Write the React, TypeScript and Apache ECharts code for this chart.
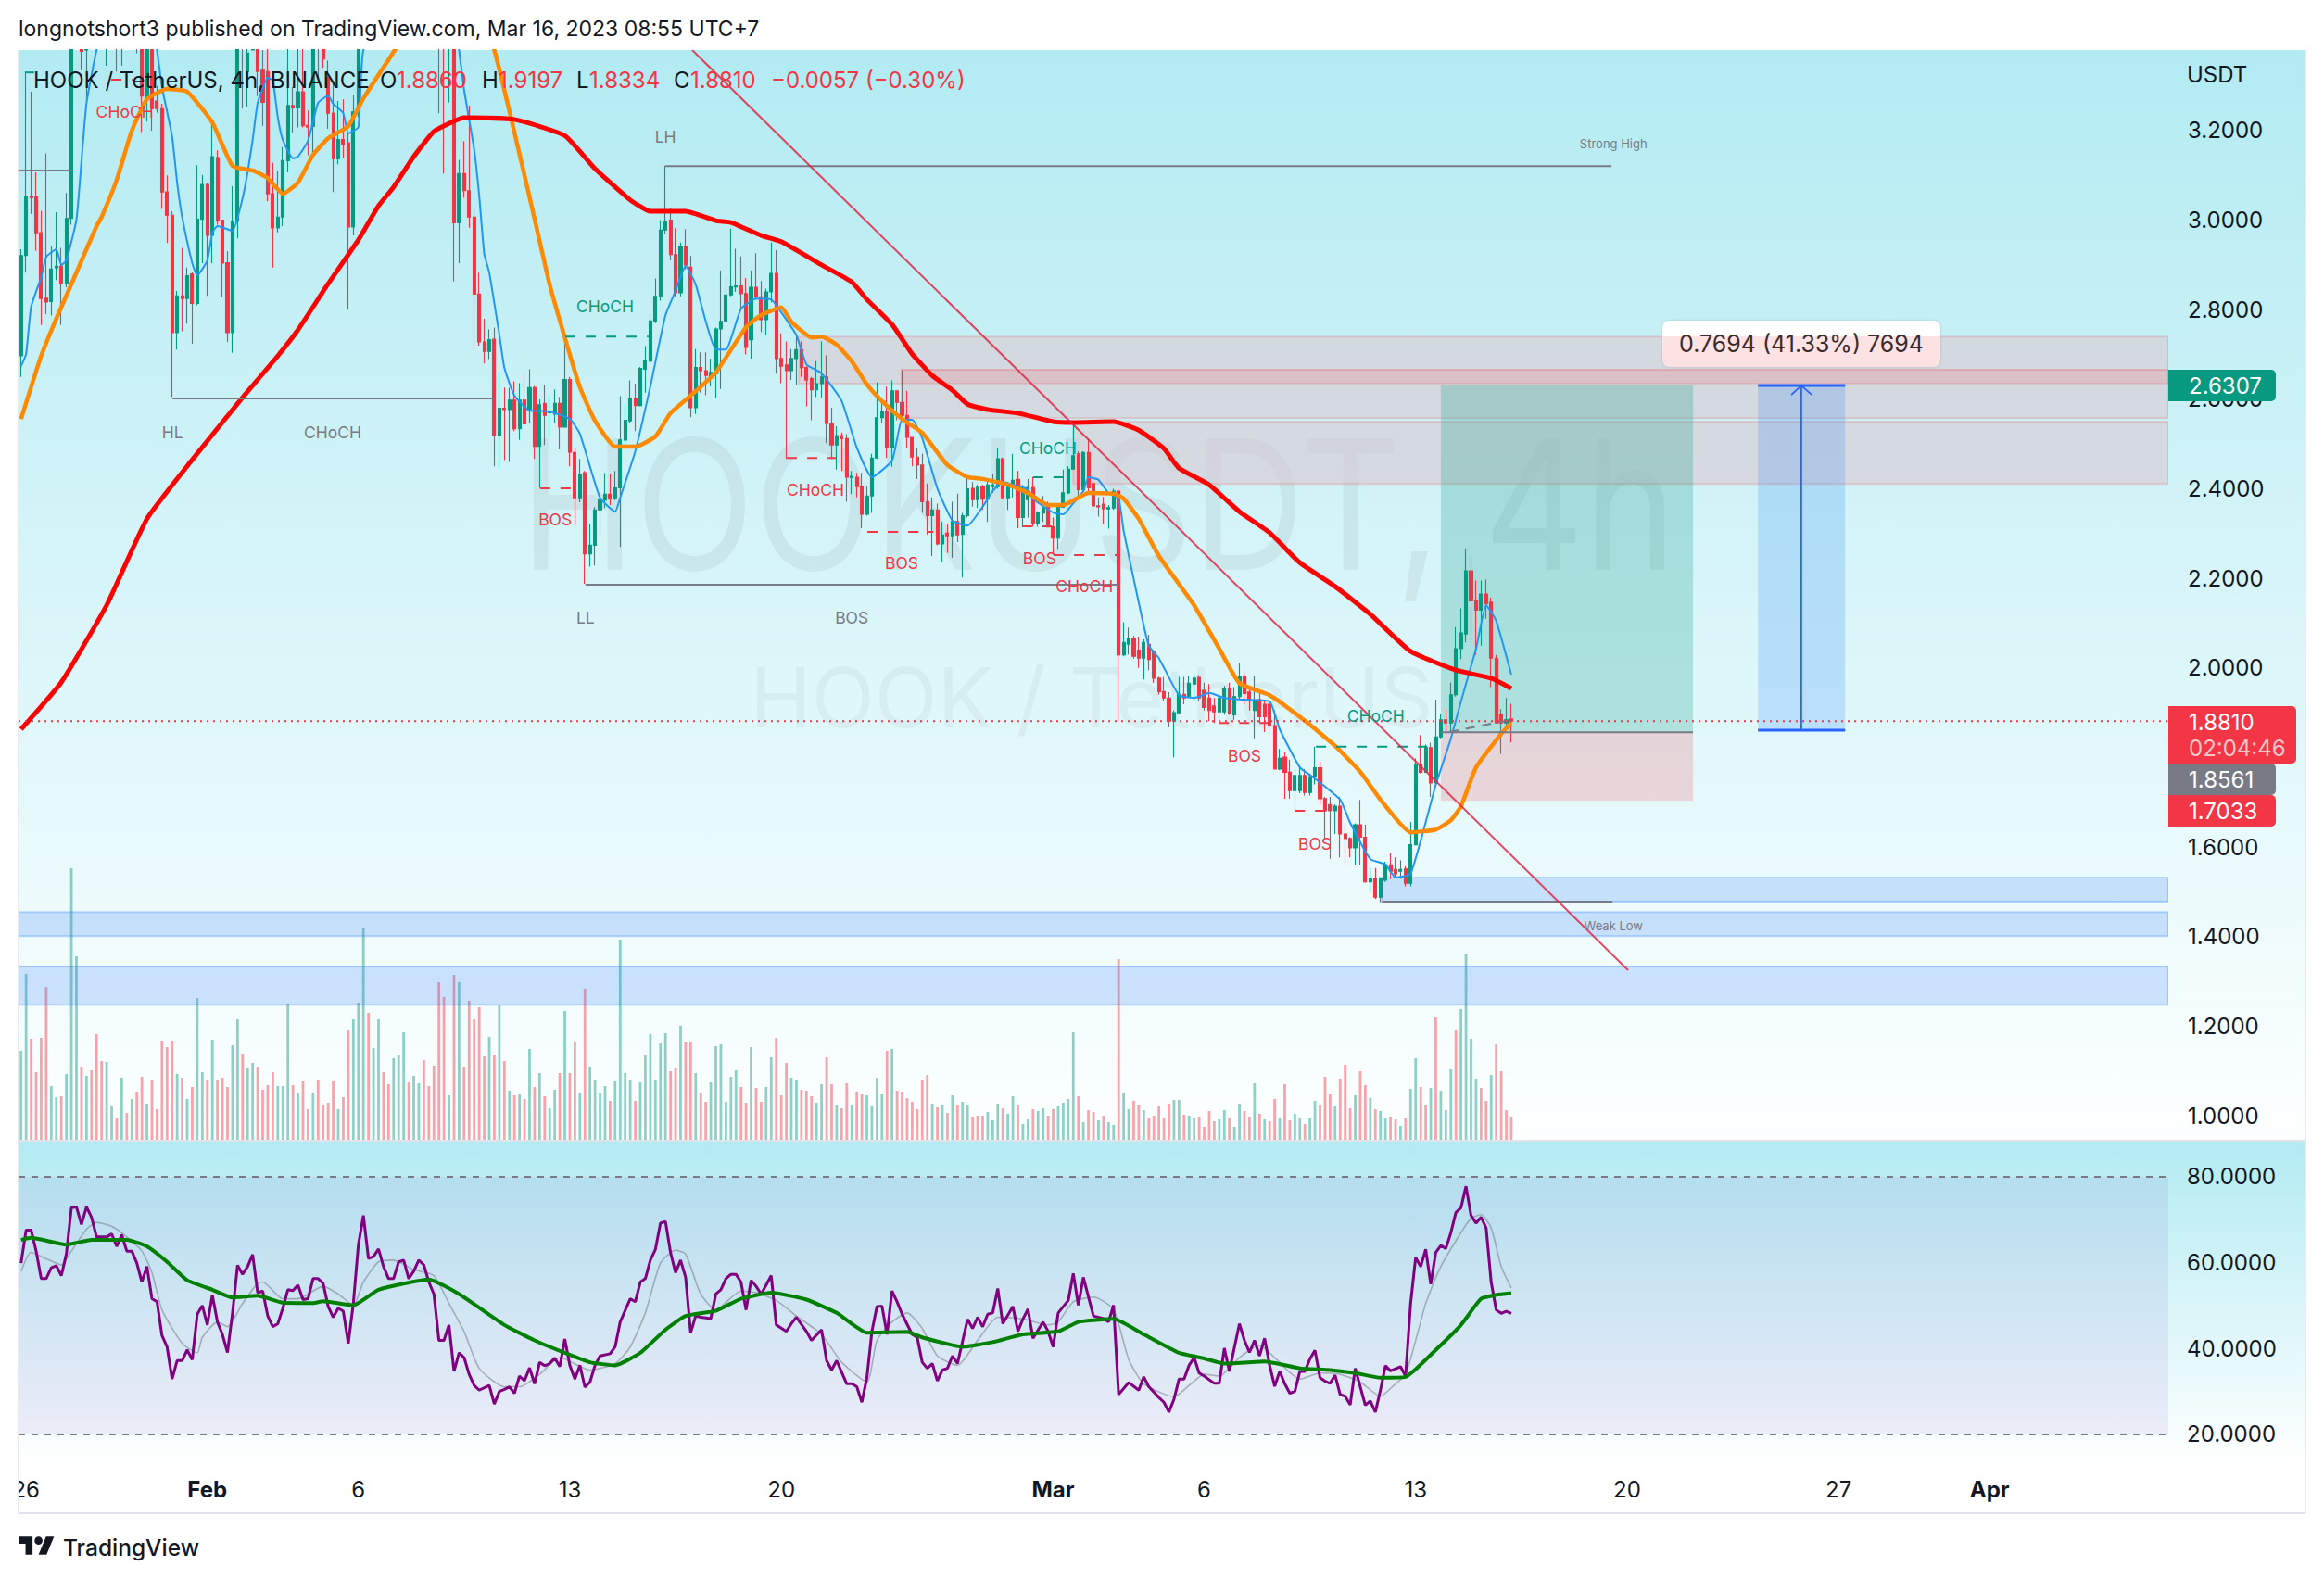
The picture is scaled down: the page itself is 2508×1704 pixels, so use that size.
import React, { useEffect, useRef } from "react";
import * as echarts from "echarts";

const FONT = "Inter, 'Noto Sans', sans-serif";
const UP = "#089981";
const DOWN = "#F23645";

// [open, close, low, high], one row per 4h bar
const candles: number[][] = [
[2.697,2.921,2.65,2.935],[2.921,3.054,2.883,3.332],[3.054,3.05,3.014,3.287],[3.054,2.972,2.932,3.107],[2.972,2.825,2.766,3.021],
[2.826,2.817,2.79,3.149],[2.818,2.891,2.787,2.942],[2.894,2.897,2.866,3.018],[2.897,2.858,2.766,2.938],[2.858,3.004,2.85,3.061],
[3.004,3.42,2.99,3.48],[3.46,3.52,3.41,3.56],[3.44,3.377,3.335,3.5],[3.38,3.45,3.266,3.5],[3.45,3.5,3.39,3.55],
[3.5,3.48,3.41,3.56],[3.48,3.53,3.42,3.58],[3.47,3.52,3.345,3.56],[3.52,3.47,3.41,3.56],[3.47,3.42,3.332,3.5],
[3.42,3.48,3.345,3.52],[3.48,3.45,3.4,3.52],[3.45,3.5,3.41,3.54],[3.5,3.45,3.373,3.53],[3.45,3.277,3.197,3.48],
[3.27,3.42,3.22,3.46],[3.42,3.249,3.2,3.44],[3.266,3.249,3.24,3.3],[3.249,3.063,3.025,3.26],[3.063,3.011,2.949,3.1],
[3.011,2.749,2.605,3.02],[2.749,2.831,2.711,2.842],[2.831,2.825,2.752,2.938],[2.825,2.876,2.769,2.894],[2.88,2.814,2.724,2.885],
[2.814,3.002,2.81,3.123],[3.002,3.08,2.904,3.101],[3.08,2.966,2.831,3.083],[2.966,3.142,2.904,3.22],[3.14,3.0,2.99,3.156],
[3.0,2.904,2.828,2.98],[2.905,2.749,2.728,2.931],[2.749,2.998,2.704,3.076],[2.998,3.45,2.96,3.5],[3.5,3.42,3.249,3.55],
[3.332,3.373,3.252,3.42],[3.38,3.46,3.39,3.5],[3.42,3.332,3.277,3.48],[3.335,3.263,3.211,3.38],[3.332,3.059,3.042,3.4],
[3.059,2.983,2.894,3.128],[2.983,3.007,2.973,3.111],[3.007,3.133,2.987,3.163],[3.133,3.256,3.107,3.4],[3.256,3.251,3.194,3.297],
[3.251,3.287,3.207,3.4],[3.287,3.211,3.207,3.4],[3.212,3.208,3.145,3.245],[3.21,3.42,3.139,3.45],[3.42,3.4,3.311,3.46],
[3.4,3.36,3.34,3.44],[3.318,3.239,3.204,3.356],[3.239,3.137,3.063,3.311],[3.137,3.18,3.125,3.266],[3.18,3.17,3.139,3.27],
[3.173,2.985,2.8,3.194],[2.985,3.242,2.966,3.28],[3.242,3.42,3.23,3.46],[3.5,3.58,3.44,3.62],[3.58,3.66,3.52,3.7],
[3.66,3.62,3.55,3.72],[3.62,3.7,3.58,3.76],[3.7,3.74,3.64,3.8],[3.74,3.68,3.62,3.78],[3.68,3.72,3.62,3.76],
[3.72,3.66,3.6,3.76],[3.66,3.7,3.6,3.74],[3.7,3.64,3.58,3.74],[3.64,3.68,3.58,3.72],[3.68,3.6,3.54,3.72],
[3.6,3.64,3.52,3.68],[3.64,3.56,3.5,3.68],[3.56,3.52,3.44,3.6],[3.45,3.42,3.239,3.5],[3.5,3.42,3.104,3.54],
[3.4,3.5,3.263,3.54],[3.5,2.994,2.863,3.52],[2.994,3.104,2.904,3.135],[3.104,3.066,3.05,3.176],[3.066,3.007,2.983,3.256],
[3.007,2.835,2.711,3.028],[2.835,2.728,2.72,2.883],[2.728,2.707,2.68,2.78],[2.707,2.733,2.69,2.756],[2.734,2.52,2.45,2.76],
[2.52,2.58,2.445,2.66],[2.58,2.577,2.464,2.626],[2.577,2.598,2.46,2.626],[2.598,2.534,2.529,2.64],[2.534,2.598,2.509,2.636],
[2.598,2.545,2.546,2.657],[2.577,2.626,2.546,2.667],[2.626,2.495,2.467,2.63],[2.495,2.588,2.402,2.6],[2.591,2.564,2.498,2.633],
[2.57,2.573,2.515,2.609],[2.567,2.591,2.546,2.622],[2.591,2.538,2.488,2.605],[2.538,2.644,2.536,2.74],[2.644,2.482,2.45,2.65],
[2.481,2.38,2.319,2.49],[2.38,2.433,2.37,2.467],[2.436,2.255,2.188,2.44],[2.255,2.274,2.226,2.322],[2.274,2.353,2.229,2.359],
[2.353,2.377,2.298,2.388],[2.375,2.388,2.357,2.435],[2.388,2.377,2.364,2.433],[2.38,2.402,2.374,2.44],[2.402,2.509,2.27,2.607],
[2.509,2.553,2.491,2.588],[2.552,2.603,2.546,2.642],[2.603,2.586,2.529,2.635],[2.586,2.669,2.584,2.672],[2.667,2.686,2.615,2.719],
[2.685,2.775,2.681,2.79],[2.775,2.83,2.77,2.87],[2.83,2.978,2.82,3.0],[2.978,2.996,2.97,3.122],[3.0,2.923,2.91,3.026],
[2.923,2.838,2.83,2.982],[2.838,2.941,2.83,2.95],[2.941,2.9,2.89,2.98],[2.895,2.581,2.56,2.92],[2.581,2.671,2.567,2.712],
[2.671,2.664,2.615,2.705],[2.664,2.653,2.609,2.705],[2.65,2.66,2.629,2.691],[2.657,2.757,2.602,2.76],[2.757,2.774,2.623,2.888],
[2.774,2.833,2.774,2.871],[2.833,2.851,2.83,2.981],[2.851,2.853,2.84,2.936],[2.853,2.836,2.802,2.919],[2.836,2.716,2.7,2.871],
[2.733,2.85,2.691,2.888],[2.85,2.829,2.822,2.926],[2.829,2.778,2.75,2.864],[2.778,2.84,2.743,2.847],[2.84,2.881,2.816,2.95],
[2.881,2.691,2.657,2.933],[2.691,2.674,2.636,2.747],[2.677,2.664,2.467,2.729],[2.664,2.691,2.643,2.712],[2.691,2.711,2.633,2.74],
[2.711,2.671,2.65,2.729],[2.671,2.643,2.584,2.674],[2.646,2.621,2.553,2.65],[2.621,2.635,2.605,2.685],[2.635,2.65,2.602,2.729],
[2.65,2.546,2.502,2.698],[2.546,2.498,2.467,2.581],[2.498,2.519,2.443,2.54],[2.519,2.512,2.44,2.526],[2.512,2.426,2.371,2.522],
[2.425,2.428,2.388,2.44],[2.426,2.405,2.381,2.436],[2.405,2.343,2.312,2.436],[2.343,2.384,2.34,2.405],[2.384,2.469,2.346,2.478],
[2.469,2.559,2.467,2.638],[2.559,2.573,2.546,2.603],[2.573,2.491,2.469,2.628],[2.491,2.619,2.449,2.642],[2.619,2.593,2.553,2.62],
[2.593,2.564,2.56,2.665],[2.564,2.515,2.491,2.619],[2.515,2.471,2.45,2.515],[2.471,2.453,2.422,2.491],[2.453,2.371,2.346,2.478],
[2.371,2.34,2.298,2.412],[2.34,2.353,2.25,2.381],[2.353,2.277,2.274,2.367],[2.277,2.297,2.236,2.326],[2.301,2.295,2.257,2.322],
[2.295,2.327,2.246,2.371],[2.327,2.297,2.281,2.389],[2.298,2.34,2.202,2.346],[2.34,2.4,2.336,2.422],[2.401,2.376,2.36,2.415],
[2.376,2.403,2.357,2.409],[2.405,2.377,2.353,2.409],[2.377,2.409,2.326,2.419],[2.405,2.409,2.391,2.433],[2.405,2.467,2.4,2.491],
[2.467,2.38,2.38,2.47],[2.38,2.409,2.353,2.415],[2.409,2.419,2.381,2.478],[2.421,2.336,2.312,2.44],[2.336,2.402,2.315,2.409],
[2.376,2.403,2.336,2.422],[2.403,2.322,2.315,2.426],[2.322,2.346,2.315,2.35],[2.346,2.358,2.326,2.384],[2.367,2.315,2.315,2.371],
[2.315,2.29,2.253,2.336],[2.29,2.359,2.264,2.364],[2.359,2.391,2.357,2.443],[2.391,2.444,2.388,2.45],[2.444,2.474,2.443,2.55],
[2.478,2.398,2.384,2.484],[2.398,2.481,2.395,2.484],[2.481,2.402,2.388,2.512],[2.412,2.362,2.346,2.431],[2.362,2.36,2.338,2.381],
[2.366,2.355,2.322,2.382],[2.355,2.358,2.311,2.364],[2.357,2.395,2.353,2.4],[2.395,2.029,1.881,2.4],[2.029,2.057,2.026,2.102],
[2.053,2.065,2.03,2.09],[2.065,2.026,2.021,2.072],[2.04,2.022,2.0,2.07],[2.022,2.057,1.974,2.064],[2.053,2.019,1.995,2.074],
[2.036,1.977,1.967,2.04],[1.977,1.947,1.94,1.98],[1.947,1.933,1.926,1.98],[1.933,1.881,1.867,1.946],[1.881,1.9,1.8,1.905],
[1.9,1.941,1.898,1.98],[1.941,1.933,1.919,1.98],[1.936,1.966,1.933,1.981],[1.964,1.977,1.926,1.984],[1.979,1.933,1.926,1.984],
[1.95,1.912,1.905,1.967],[1.933,1.905,1.881,1.964],[1.915,1.902,1.877,1.933],[1.902,1.933,1.884,1.936],[1.902,1.953,1.895,1.96],
[1.953,1.898,1.895,1.967],[1.895,1.936,1.884,1.957],[1.936,1.981,1.929,2.01],[1.981,1.943,1.919,1.989],[1.946,1.926,1.905,1.957],
[1.905,1.926,1.843,1.982],[1.929,1.891,1.877,1.95],[1.919,1.891,1.857,1.926],[1.919,1.871,1.853,1.926],[1.871,1.774,1.774,1.905],
[1.774,1.798,1.772,1.819],[1.801,1.767,1.708,1.812],[1.767,1.726,1.708,1.795],[1.726,1.76,1.681,1.774],[1.726,1.76,1.72,1.778],
[1.76,1.722,1.715,1.774],[1.722,1.757,1.715,1.764],[1.757,1.777,1.74,1.824],[1.777,1.708,1.695,1.791],[1.708,1.681,1.62,1.712],
[1.695,1.681,1.574,1.712],[1.681,1.691,1.629,1.695],[1.691,1.629,1.577,1.712],[1.629,1.619,1.557,1.653],[1.619,1.598,1.577,1.622],
[1.598,1.65,1.56,1.653],[1.65,1.622,1.56,1.705],[1.622,1.522,1.52,1.65],[1.522,1.529,1.5,1.553],[1.529,1.488,1.484,1.553],
[1.488,1.529,1.477,1.533],[1.526,1.56,1.522,1.567],[1.56,1.546,1.529,1.586],[1.55,1.54,1.533,1.577],[1.546,1.55,1.529,1.57],
[1.551,1.519,1.512,1.557],[1.519,1.605,1.512,1.656],[1.605,1.784,1.605,1.798],[1.784,1.767,1.764,1.85],[1.767,1.822,1.767,1.829],
[1.822,1.743,1.712,1.833],[1.743,1.846,1.743,1.929],[1.846,1.884,1.843,1.898],[1.884,1.877,1.853,1.908],[1.877,1.94,1.857,1.967],
[1.94,2.043,1.936,2.091],[2.043,2.078,2.02,2.133],[2.076,2.217,2.057,2.267],[2.217,2.15,2.057,2.25],[2.15,2.129,2.029,2.195],
[2.129,2.165,2.05,2.195],[2.165,2.143,2.11,2.198],[2.147,2.022,1.957,2.157],[2.022,1.877,1.877,2.029],[1.897,1.877,1.808,1.908],
[1.877,1.884,1.864,1.933],[1.886,1.881,1.8334,1.9197],
];

const volumes: number[] = [
96,179,109,73,110,165,58,46,47,71,293,198,79,69,75,114,85,84,36,24,67,29,44,52,68,39,64,33,107,100,107,71,67,44,57,153,73,64,108,64,
67,57,102,130,93,77,83,78,54,59,73,58,58,147,59,50,63,33,51,65,37,40,63,33,46,118,130,148,228,137,99,130,73,60,88,92,116,62,69,61,
86,58,80,170,154,48,178,170,78,150,130,143,90,111,92,145,85,53,48,49,44,98,57,72,47,34,54,72,139,72,106,51,163,79,64,51,58,42,63,216,
72,64,42,62,91,114,65,104,115,74,77,123,106,106,72,50,41,62,101,103,41,68,75,57,40,100,56,41,57,89,110,48,83,67,65,54,53,47,40,60,
89,60,38,34,61,38,52,49,48,36,67,49,96,98,53,52,45,41,33,64,70,39,35,37,29,48,38,41,38,25,26,26,30,21,39,34,28,47,37,17,
22,33,31,34,26,33,36,40,44,116,47,19,32,30,21,26,19,16,195,
50,33,42,37,32,23,26,36,24,39,43,43,27,26,24,25,14,31,20,22,32,24,14,39,31,25,61,28,22,20,44,24,60,21,28,23,17,24,42,38,
68,49,36,66,81,34,48,74,59,45,33,31,23,25,22,15,23,55,88,57,37,56,133,53,32,76,119,141,200,109,66,56,42,70,103,74,32,25,
];
// g = rising bar, r = falling bar, in the order of volumes
const volumeSides = (
  "ggrrrrggrgggrgrrrggrgrgrrgrrrrrgrgrggrgr" +
  "rrggrggrrrrgggrgrrgrrrrgrrgggrggrrgggrgg" +
  "rrrrrgrgrrrrrgrgrgrgrgrgrggrgrrgrggggrgg" +
  "ggrggggggrrgrrgrrggggggrrgrrggrrrggrrrgg" +
  "rrgrrgrrggggrgrrrrrrrgrgrgrggrrrgggrggrg" +
  "grggrrggggrgrrgrggr" +
  "ggrrgrrrrrggrggrrrrggrggrrgrgrrgrrggrggr" +
  "rrgrrrgrrgrggrrgrggrrgrgggrggggrrgrrrrgr"
).split("");

const redLine: number[][] = [[0,1.863],[8,1.968],[17,2.14],[25,2.333],[34,2.465],[44,2.604],[51,2.697],[55,2.755],[61,2.858],[67,2.956],[71,3.032],[74,3.074],[78,3.142],[82,3.198],[86,3.221],[88,3.229],[98,3.225],[108,3.189],[114,3.115],[121,3.045],[125,3.02],[132,3.02],[138,2.999],[141,2.995],[147,2.966],[151,2.952],[159,2.9],[165,2.862],[168,2.823],[173,2.767],[177,2.701],[181,2.653],[185,2.62],[188,2.589],[192,2.577],[198,2.569],[205,2.55],[209,2.548],[217,2.55],[222,2.531],[227,2.49],[230,2.446],[236,2.409],[242,2.349],[248,2.302],[254,2.235],[261,2.182],[268,2.12],[276,2.037],[285,1.995],[292,1.977],[296,1.954]];

const orangeLine: number[][] = [[0,2.556],[4,2.697],[7,2.78],[11,2.883],[15,2.987],[16,3.007],[19,3.09],[22,3.2],[25,3.27],[29,3.293],[33,3.287],[38,3.218],[42,3.121],[46,3.111],[49,3.094],[52,3.059],[55,3.084],[58,3.146],[61,3.183],[65,3.21],[68,3.272],[74,3.376],[78,3.45],[83,3.52],[88,3.5],[92,3.42],[94,3.38],[98,3.196],[102,3.003],[105,2.856],[108,2.738],[111,2.627],[114,2.552],[118,2.494],[122,2.494],[126,2.517],[129,2.569],[133,2.608],[138,2.66],[144,2.761],[147,2.788],[151,2.805],[153,2.773],[157,2.738],[159,2.74],[162,2.722],[165,2.685],[168,2.633],[171,2.596],[175,2.556],[179,2.525],[184,2.453],[188,2.426],[191,2.422],[196,2.409],[200,2.391],[204,2.364],[207,2.364],[212,2.391],[217,2.389],[219,2.378],[222,2.333],[226,2.25],[233,2.14],[238,2.043],[242,1.966],[248,1.939],[255,1.882],[261,1.826],[266,1.768],[270,1.706],[276,1.633],[281,1.639],[284,1.66],[286,1.691],[289,1.778],[294,1.853],[296,1.877]];

const blueLine: number[][] = [[0,2.674],[1,2.701],[2,2.807],[4,2.873],[5,2.918],[7,2.935],[8,2.9],[9,2.91],[11,3.001],[12,3.132],[13,3.262],[15,3.38],[20,3.6],[25,3.52],[27,3.38],[28,3.297],[30,3.187],[31,3.084],[32,3.007],[34,2.904],[35,2.877],[37,2.91],[38,2.972],[39,2.987],[42,2.976],[44,3.049],[45,3.107],[46,3.179],[47,3.262],[49,3.318],[50,3.312],[51,3.229],[52,3.179],[54,3.138],[55,3.142],[57,3.177],[59,3.262],[61,3.278],[62,3.26],[64,3.239],[65,3.194],[67,3.208],[68,3.38],[75,3.55],[85,3.55],[87,3.38],[88,3.291],[90,3.158],[91,3.055],[92,2.925],[93,2.883],[95,2.744],[96,2.67],[98,2.608],[101,2.575],[105,2.573],[109,2.556],[111,2.523],[115,2.38],[118,2.349],[119,2.38],[122,2.484],[125,2.629],[128,2.788],[130,2.842],[132,2.898],[134,2.856],[136,2.774],[138,2.711],[140,2.711],[143,2.802],[146,2.825],[149,2.823],[151,2.794],[154,2.743],[156,2.678],[159,2.658],[163,2.596],[166,2.492],[169,2.426],[173,2.463],[175,2.554],[177,2.554],[179,2.513],[182,2.401],[185,2.329],[188,2.318],[191,2.36],[193,2.395],[195,2.416],[197,2.409],[200,2.399],[201,2.378],[205,2.347],[207,2.343],[209,2.368],[211,2.395],[212,2.426],[214,2.42],[216,2.391],[218,2.378],[219,2.306],[222,2.146],[224,2.049],[226,2.022],[230,1.939],[233,1.933],[236,1.944],[239,1.933],[243,1.929],[248,1.925],[250,1.863],[254,1.778],[257,1.753],[262,1.706],[264,1.654],[268,1.573],[271,1.561],[273,1.532],[276,1.54],[281,1.739],[284,1.842],[286,1.925],[289,2.043],[291,2.14],[293,2.105],[296,1.985]];

const rsiLine: number[][] = [[0,59.9],[1,67.6],[2,67.6],[3,62.7],[4,56.3],[5,56.3],[6,58.8],[7,59.3],[8,57],[9,62],[10,72.8],[11,73],[12,68.9],[13,73],[14,70.6],[15,66],[16,66],[17,66],[18,66.7],[19,63.8],[20,66.5],[21,62.7],[22,62.7],[23,59.9],[24,55.5],[25,59.1],[26,51.6],[27,50.9],[28,43],[29,40.4],[30,32.9],[31,37.2],[32,37.2],[33,39.7],[34,37.4],[35,48],[36,50],[37,45.5],[38,52.5],[39,46.2],[40,43.3],[41,39.1],[42,48.3],[43,59.4],[44,57.3],[45,59.1],[46,61.9],[47,53],[48,53.4],[49,47.6],[50,45.1],[51,45.8],[52,49.4],[53,53.7],[54,53.5],[55,54.8],[56,51.4],[57,51.6],[58,56.3],[59,56.3],[60,55.2],[61,49.8],[62,47.3],[63,49.4],[64,48.7],[65,41.2],[66,50.5],[67,64.2],[68,71],[69,61],[70,61.4],[71,63.2],[72,59.1],[73,56.3],[74,56.3],[75,60.2],[76,60.6],[77,56.3],[78,58],[79,60.6],[80,59.5],[81,55.5],[82,52.7],[83,41.9],[84,41.9],[85,45.5],[86,34.7],[87,39],[88,37.9],[89,34],[90,31.4],[91,30.3],[93,31.4],[94,27.1],[95,30],[96,30.5],[97,31.1],[98,29.6],[99,33.6],[100,32.5],[101,35.5],[102,31.8],[103,36.8],[104,36],[105,36.5],[106,37.8],[107,35.8],[108,42.2],[109,36.1],[110,32.9],[111,36.1],[112,31],[113,32.2],[114,36.1],[115,38.3],[117,38.8],[118,40.4],[119,46.2],[121,51.6],[122,50.9],[123,55.5],[124,56.3],[125,60.6],[126,63.1],[127,69.2],[128,69.6],[129,62.4],[130,57.7],[131,60.6],[132,56.6],[133,43.7],[134,47.6],[135,47.3],[137,47],[138,52.7],[139,53.7],[140,56.3],[141,57.3],[142,57.3],[143,55.5],[144,49],[145,55.9],[146,54.5],[147,52.7],[148,54.8],[149,57],[150,45.5],[152,44],[153,45.8],[154,47.3],[156,44],[157,41.9],[159,44.4],[160,37.2],[161,35],[162,37.2],[164,31.8],[165,31.8],[166,31.1],[167,27.5],[168,33.2],[169,44],[170,49.8],[171,49.9],[172,43.3],[173,53.4],[174,50.9],[175,48],[177,43.3],[178,42.6],[179,36.8],[180,35.4],[181,36.5],[182,32.5],[183,35],[184,35.4],[185,38.3],[186,36.5],[188,46.8],[189,44.7],[190,47.3],[191,45.1],[192,48],[193,48.3],[194,54],[195,45.8],[197,49.8],[198,44],[199,46.9],[200,49.2],[201,42.4],[203,46.2],[204,44],[205,40.4],[206,48.3],[208,51.2],[209,57.5],[210,50.1],[211,56.6],[213,47.6],[215,47],[216,46.2],[217,50.1],[218,29.3],[220,32.1],[222,30.3],[223,33.4],[224,31.1],[226,28.6],[227,27.5],[228,25.2],[229,28.2],[230,32.9],[231,32.9],[232,36.1],[233,37.9],[234,34.3],[235,33.6],[237,31.9],[238,31.9],[239,40.1],[240,34.7],[242,45.8],[243,41.9],[244,39.1],[245,41.9],[246,38.3],[247,42.4],[248,36.1],[249,31.2],[250,34.7],[251,31.8],[252,29.6],[253,30],[254,34.7],[255,34.7],[256,37.6],[257,39.6],[258,33.2],[259,32.4],[260,31.9],[261,33.8],[262,29.3],[263,28.9],[264,26.9],[265,35.4],[266,31.1],[267,26.8],[268,27.8],[269,25.2],[270,30.3],[271,36],[272,34.8],[274,35.8],[275,33.6],[276,50.5],[277,61.2],[278,59.1],[279,63.1],[280,55],[281,62.4],[282,64],[283,63.3],[284,67],[285,71.7],[286,72.8],[287,77.8],[288,71],[289,69.2],[290,70.6],[291,68.1],[292,55.5],[293,49],[294,48.2],[295,48.7],[296,48.2]];

const rsiSignal: number[][] = [[0,58],[2,62.4],[5,60.9],[8,59.5],[10,62.7],[13,67.8],[15,69.4],[18,68.5],[21,66],[24,62.7],[26,57.7],[28,49],[32,41.2],[35,39],[36,42.6],[39,46.2],[41,45.1],[44,50.5],[47,55.2],[48,55.5],[52,51.6],[55,51.6],[60,54.5],[63,52.7],[66,50.1],[68,55.5],[71,60.2],[74,60.6],[78,58.4],[82,57],[85,50.5],[88,44],[91,35.4],[96,31.1],[99,31.1],[103,34],[107,37.9],[113,35],[118,36.5],[121,40.4],[124,48.3],[127,59.9],[130,62.9],[132,62],[135,52.7],[138,49],[143,53.4],[146,53],[150,51.2],[154,47.6],[159,43.3],[163,36.8],[168,32.2],[170,41.9],[173,46.2],[176,48.3],[179,44.7],[182,38.3],[186,36.1],[190,41.9],[194,47.3],[199,46.9],[204,45.5],[206,46.2],[209,50.9],[213,52],[217,49.1],[220,37.5],[223,31.8],[229,28.8],[232,31.4],[235,34],[238,33.6],[242,37.9],[246,40.8],[249,37.9],[254,32.9],[258,34.3],[262,34],[266,32.2],[270,28.9],[273,31.8],[275,34],[278,46.2],[279,50.5],[282,59.1],[286,67],[288,70.3],[290,71.2],[292,68.1],[294,59.1],[296,54.1]];

const rsiAverage: number[][] = [[0,65.3],[2,65.8],[9,64.2],[14,65.3],[21,65.3],[25,63.8],[29,60.2],[33,55.9],[38,53.7],[42,51.9],[47,52.3],[52,50.7],[58,50.6],[60,51],[66,50.1],[71,53.7],[81,56.1],[87,52.7],[96,45.5],[102,41.9],[108,39],[113,36.8],[118,36.1],[123,39],[128,44.4],[132,47.6],[138,48.8],[143,51.6],[149,53],[156,51.4],[162,48.3],[168,43.7],[176,43.9],[179,42.6],[187,40.4],[193,41.5],[199,43.3],[206,44],[210,46.2],[217,46.9],[223,43.3],[230,39],[235,37.7],[239,36.5],[247,37],[254,35.4],[260,35],[265,34.3],[270,33.2],[275,33.4],[281,39.7],[286,45.5],[290,51.6],[293,52.5],[296,52.9]];

const priceTicks = [1.0, 1.2, 1.4, 1.6, 1.8, 2.0, 2.2, 2.4, 2.6, 2.8, 3.0, 3.2];
const rsiTicks = [20, 40, 60, 80];
const dateTickBars = [1, 37, 67, 109, 151, 205, 235, 277, 319, 361, 391];
const dateTickLabels = ["26", "Feb", "6", "13", "20", "Mar", "6", "13", "20", "27", "Apr"];
const monthLabels = ["Feb", "Mar", "Apr"];

// annotations: [bar position from the pane's left edge, price, ...]
const grayZones = [[155, 427, 2.635, 2.74], [175.4, 427, 2.558, 2.666], [209.5, 427, 2.411, 2.55]];
const pinkZones = [[175.4, 427, 2.635, 2.666]];
const blueZones = [[270.8, 427, 1.478, 1.532], [0, 427, 1.401, 1.455], [0, 427, 1.248, 1.333]];
const targetZones = [[282.5, 332.6, 1.8561, 2.6307]];
const stopZones = [[282.5, 332.6, 1.7033, 1.8561]];
const measureZones = [[345.5, 362.8, 1.861, 2.6307]];

const grayLines = [[128.5,3.121,316.4,3.121],[30.6,2.602,94.4,2.602],[0,3.111,10.5,3.111],[112.6,2.186,218.5,2.186],[270.8,1.478,316.6,1.478],[282.5,1.8561,332.6,1.8561]];
const redDashes = [[103.6,2.401,110.4,2.401],[152.6,2.469,162.3,2.469],[168.6,2.304,181.7,2.304],[199.3,2.316,205.2,2.316],[205.6,2.252,218.5,2.252],[238.4,1.877,248.1,1.877],[253.5,1.681,260.1,1.681],[18.4,3.314,22.6,3.314]];
const greenDashes = [[108.6,2.74,125.2,2.74],[201.5,2.426,207.6,2.426],[257.7,1.824,279.8,1.824]];
const greenLines = [[1.3,3.33,3.1,3.33]];
const grayDashes = [[284.2,1.857,296.5,1.884]];
const trendLines = [[133.8,3.38,319.7,1.325]];
const lastPriceLines = [[0,1.881,427,1.881]];
const measureEdges = [[345.5,2.6307,362.8,2.6307],[345.5,1.861,362.8,1.861]];
const measureArrow = [[354.1,1.861,354.1,2.6307],[352.1,2.61,354.1,2.6307],[356.2,2.61,354.1,2.6307]];

const redTexts = ["CHoCH","BOS","CHoCH","BOS","BOS","CHoCH","BOS","BOS"];
const redTextPoints = [[21.1,3.243],[106.6,2.331],[158.3,2.397],[175.4,2.235],[202.8,2.244],[211.7,2.182],[243.5,1.803],[257.5,1.608]];
const greenTexts = ["CHoCH","CHoCH","CHoCH"];
const greenTextPoints = [[116.5,2.807],[204.5,2.492],[269.6,1.892]];
const grayTexts = ["LH","HL","CHoCH","LL","BOS"];
const grayTextPoints = [[128.5,3.187],[30.6,2.527],[62.4,2.527],[112.6,2.113],[165.5,2.113]];
const smallTexts = ["Strong High","Weak Low"];
const smallTextPoints = [[316.8,3.171],[316.8,1.424]];

const legendHead = "HOOK / TetherUS, 4h, BINANCE";
const legendItems = [["O","1.8860"],["H","1.9197"],["L","1.8334"],["C","1.8810"]];
const legendChange = "−0.0057 (−0.30%)";
const publishedLine = "longnotshort3 published on TradingView.com, Mar 16, 2023 08:55 UTC+7";
const measureText = "0.7694 (41.33%) 7694";

const LOGO = "M14 22H7V11H0V4h14v18zM28 22h-8l7.5-18h8L28 22zM24 8a4 4 0 1 1-8 0 4 4 0 0 1 8 0z";

const PANE_L = 20, PANE_W = 2320, BARS = 427;

function zoneSeries(data: number[][], fill: string, stroke: string, z: number) {
  return {
    type: "custom", xAxisIndex: 1, yAxisIndex: 0, z, clip: true, silent: true, data,
    renderItem: (_p: any, api: any) => {
      const a = api.coord([api.value(0), api.value(2)]);
      const b = api.coord([api.value(1), api.value(3)]);
      return { type: "rect", shape: { x: a[0], y: b[1], width: b[0] - a[0], height: a[1] - b[1] }, style: { fill, stroke, lineWidth: 2 } };
    },
  };
}
function segmentSeries(data: number[][], stroke: string, lineWidth: number, lineDash: number[] | null, z: number) {
  return {
    type: "custom", xAxisIndex: 1, yAxisIndex: 0, z, clip: true, silent: true, data,
    renderItem: (_p: any, api: any) => {
      const a = api.coord([api.value(0), api.value(1)]);
      const b = api.coord([api.value(2), api.value(3)]);
      return { type: "line", shape: { x1: a[0], y1: a[1], x2: b[0], y2: b[1] }, style: { stroke, lineWidth, lineDash: lineDash || undefined, fill: "none" } };
    },
  };
}
function textSeries(texts: string[], points: number[][], fill: string, size: number) {
  return {
    type: "custom", xAxisIndex: 1, yAxisIndex: 0, z: 9, clip: false, silent: true, data: points,
    renderItem: (p: any, api: any) => {
      const a = api.coord([api.value(0), api.value(1)]);
      return { type: "text", style: { text: texts[p.dataIndex], x: a[0], y: a[1], fill, font: `${size}px ${FONT}`, align: "center", verticalAlign: "middle" } };
    },
  };
}
function lineSeries(data: number[][], color: string, width: number, gridAxis: number, yAxis: number, z: number, smooth: number) {
  return {
    type: "line", xAxisIndex: gridAxis, yAxisIndex: yAxis, data, z, smooth, clip: true, silent: true,
    showSymbol: false, symbol: "none", lineStyle: { color, width }, connectNulls: true,
  };
}
const txt = (text: string, x: number, y: number, font: string, fill: string, align = "left", z = 20) => ({
  type: "text", z, silent: true, style: { text, x, y, font: `${font} ${FONT}`, fill, align, verticalAlign: "middle" },
});
const tag = (x: number, y: number, w: number, h: number, fill: string, z = 19) => ({
  type: "rect", z, silent: true, shape: { x, y, width: w, height: h, r: [0, 5, 5, 0] }, style: { fill },
});
const vGrad = (stops: [number, string][]) => ({
  type: "linear", x: 0, y: 0, x2: 0, y2: 1, colorStops: stops.map(([offset, color]) => ({ offset, color })),
});

export default function App() {
  const ref = useRef<HTMLDivElement>(null);
  useEffect(() => {
    document.body.style.margin = "0";
    document.body.style.background = "#fff";
    echarts.graphic.registerShape("tvlogo", echarts.graphic.extendPath(LOGO, {}));
    const chart = echarts.init(ref.current!, null, { renderer: "svg", width: 2508, height: 1704 });
    const cats = Array.from({ length: BARS }, (_, i) => {
      const k = dateTickBars.indexOf(i);
      return k >= 0 ? dateTickLabels[k] : "";
    });
    const legendX = [[410, 428], [520, 538], [622, 636], [727, 745]];
    chart.setOption({
      animation: false,
      backgroundColor: "#ffffff",
      grid: [
        { left: PANE_L, top: 54, width: PANE_W, height: 1176 },
        { left: PANE_L, top: 1232, width: PANE_W, height: 348 },
      ],
      xAxis: [
        { type: "category", gridIndex: 0, data: cats, boundaryGap: true, axisLine: { show: false }, axisTick: { show: false }, axisLabel: { show: false }, splitLine: { show: false } },
        { type: "value", gridIndex: 0, min: 0, max: BARS, show: false },
        {
          type: "category", gridIndex: 1, data: cats, boundaryGap: true, axisLine: { show: false }, axisTick: { show: false }, splitLine: { show: false },
          axisLabel: {
            show: true, margin: 15, interval: (i: number) => dateTickBars.includes(i), hideOverlap: false,
            formatter: (v: string) => (monthLabels.includes(v) ? `{b|${v}}` : `{n|${v}}`),
            rich: {
              b: { fontFamily: FONT, fontSize: 24, fontWeight: 700, color: "#131722" },
              n: { fontFamily: FONT, fontSize: 24, color: "#131722" },
            },
          },
        },
      ],
      yAxis: [
        {
          type: "value", gridIndex: 0, position: "right", min: 0.9462, max: 3.38, splitLine: { show: false }, axisLine: { show: false }, axisTick: { show: false },
          axisLabel: { margin: 21, fontFamily: FONT, fontSize: 24, color: "#131722", customValues: priceTicks, formatter: (v: number) => v.toFixed(4) },
        },
        { type: "value", gridIndex: 0, min: 0, max: 1176, show: false },
        {
          type: "value", gridIndex: 1, position: "right", min: 13.09, max: 88.2, splitLine: { show: false }, axisLine: { show: false }, axisTick: { show: false },
          axisLabel: { margin: 20, fontFamily: FONT, fontSize: 24, color: "#131722", customValues: rsiTicks, formatter: (v: number) => v.toFixed(4) },
        },
      ],
      series: [
        {
          type: "bar", xAxisIndex: 0, yAxisIndex: 1, z: 1, barWidth: 2.8, silent: true,
          data: volumes.map((v, i) => ({ value: v, itemStyle: { color: volumeSides[i] === "g" ? "rgba(8,153,129,0.45)" : "rgba(242,54,69,0.45)" } })),
        },
        zoneSeries(grayZones, "rgba(218,202,208,0.6)", "rgba(242,54,69,0.18)", 2),
        zoneSeries(pinkZones, "rgba(242,54,69,0.1)", "rgba(242,54,69,0.05)", 2),
        zoneSeries(blueZones, "rgba(41,120,250,0.2)", "rgba(41,120,250,0.28)", 2),
        zoneSeries(targetZones, "rgba(8,153,129,0.23)", "none", 2),
        zoneSeries(stopZones, "rgba(242,54,69,0.18)", "none", 2),
        zoneSeries(measureZones, "rgba(33,130,243,0.2)", "none", 2),
        {
          type: "candlestick", xAxisIndex: 0, yAxisIndex: 0, z: 4, barWidth: 3.6, silent: true, clip: true, data: candles,
          itemStyle: { color: UP, color0: DOWN, borderColor: UP, borderColor0: DOWN, borderWidth: 1.1 },
        },
        lineSeries(blueLine, "#2196F3", 2, 0, 0, 5, 0.15),
        lineSeries(orangeLine, "#FF8A00", 4.5, 0, 0, 6, 0.15),
        lineSeries(redLine, "#FF0000", 5, 0, 0, 7, 0.15),
        segmentSeries(grayLines, "#787B86", 2, null, 8),
        segmentSeries(redDashes, "#F23645", 2, [11, 11], 8),
        segmentSeries(greenDashes, "#089981", 2, [11, 11], 8),
        segmentSeries(greenLines, "#089981", 2, null, 8),
        segmentSeries(grayDashes, "#787B86", 2, [10, 8], 8),
        segmentSeries(trendLines, "rgba(222,40,70,0.85)", 2, null, 8),
        segmentSeries(lastPriceLines, "#F23645", 2, [2, 5], 8),
        segmentSeries(measureEdges, "#2962FF", 3, null, 8),
        segmentSeries(measureArrow, "#2962FF", 1.8, null, 8),
        textSeries(redTexts, redTextPoints, "#F23645", 17.5),
        textSeries(greenTexts, greenTextPoints, "#089981", 17.5),
        textSeries(grayTexts, grayTextPoints, "#787B86", 17.5),
        textSeries(smallTexts, smallTextPoints, "#787B86", 13),
        {
          ...lineSeries(rsiSignal, "rgba(120,123,134,0.55)", 1.6, 2, 2, 4, 0.2),
        },
        {
          ...lineSeries(rsiLine, "#800080", 3, 2, 2, 5, 0),
          markArea: { silent: true, z: 1, itemStyle: { color: "rgba(126,87,194,0.1)" }, data: [[{ yAxis: 80 }, { yAxis: 20 }]] },
          markLine: {
            silent: true, symbol: "none", z: 1, label: { show: false },
            lineStyle: { color: "#787B86", type: [7, 7], width: 2 },
            data: [{ yAxis: 80 }, { yAxis: 20 }],
          },
        },
        lineSeries(rsiAverage, "#008000", 4, 2, 2, 6, 0.15),
      ],
      graphic: [
        { type: "rect", z: -5, silent: true, shape: { x: 20, y: 54, width: 2468, height: 1176 }, style: { fill: vGrad([[0, "#B2EBF2"], [1, "#FDFFFF"]]) } },
        { type: "rect", z: -5, silent: true, shape: { x: 20, y: 1232, width: 2468, height: 348 }, style: { fill: vGrad([[0, "#B2EBF2"], [1, "#FFFFFF"]]) } },
        { type: "text", z: -4, silent: true, x: 1185, y: 544, scaleX: 0.86, style: { text: "HOOKUSDT, 4h", x: 0, y: 0, font: `195px ${FONT}`, fill: "rgba(120,123,134,0.11)", align: "center", verticalAlign: "middle" } },
        { type: "text", z: -4, silent: true, style: { text: "HOOK / TetherUS", x: 1178, y: 752, font: `89px ${FONT}`, fill: "rgba(120,123,134,0.08)", align: "center", verticalAlign: "middle" } },
        { type: "rect", z: 15, silent: true, shape: { x: 0, y: 0, width: 2508, height: 53 }, style: { fill: "#ffffff" } },
        { type: "rect", z: 30, silent: true, shape: { x: 0, y: 1582, width: 20, height: 50 }, style: { fill: "#ffffff" } },
        { type: "line", z: 31, silent: true, shape: { x1: 20, y1: 54, x2: 20, y2: 1633 }, style: { stroke: "#E0E3EB", lineWidth: 1.5 } },
        { type: "line", z: 31, silent: true, shape: { x1: 2488, y1: 54, x2: 2488, y2: 1633 }, style: { stroke: "#E0E3EB", lineWidth: 1.5 } },
        { type: "line", z: 31, silent: true, shape: { x1: 20, y1: 1633, x2: 2488, y2: 1633 }, style: { stroke: "#E0E3EB", lineWidth: 2 } },
        { type: "line", z: 31, silent: true, shape: { x1: 20, y1: 1231, x2: 2488, y2: 1231 }, style: { stroke: "#E0E3EB", lineWidth: 2 } },
        txt(publishedLine, 20, 31, "23px", "#131722"),
        txt(legendHead, 36, 86, "24px", "#131722"),
        ...legendItems.flatMap(([k, v], i) => [
          txt(k, legendX[i][0], 86, "24px", "#131722"),
          txt(v, legendX[i][1], 86, "24px", DOWN),
        ]),
        txt(legendChange, 832, 86, "24px", DOWN),
        txt("USDT", 2360, 80, "24px", "#131722"),
        tag(2340, 399, 116, 34, UP),
        txt("2.6307", 2362, 416, "24px", "#ffffff"),
        tag(2340, 762, 138, 62, DOWN),
        txt("1.8810", 2362, 779, "24px", "#ffffff"),
        txt("02:04:46", 2362, 807, "24px", "rgba(255,255,255,0.72)"),
        tag(2340, 824, 116, 34, "#787B86"),
        txt("1.8561", 2362, 841, "24px", "#ffffff"),
        tag(2340, 858, 116, 34, DOWN),
        txt("1.7033", 2362, 875, "24px", "#ffffff"),
        {
          type: "rect", z: 18, silent: true, shape: { x: 1794, y: 346, width: 300, height: 50, r: 8 },
          style: { fill: vGrad([[0, "#FFFFFF"], [0.34, "#FFFFFF"], [0.34, "#FDE2E4"], [1, "#FDE2E4"]]), shadowBlur: 3, shadowColor: "rgba(0,0,0,0.15)" },
        },
        txt(measureText, 1944, 371, "25px", "#3B2A2D", "center"),
        { type: "tvlogo", z: 20, silent: true, x: 20, y: 1654, scaleX: 1.08, scaleY: 1.08, style: { fill: "#131722" } },
        txt("TradingView", 68, 1670, "500 24.5px", "#131722"),
      ],
    });
    return () => chart.dispose();
  }, []);
  return <div ref={ref} style={{ position: "fixed", left: 0, top: 0, width: 2508, height: 1704 }} />;
}
